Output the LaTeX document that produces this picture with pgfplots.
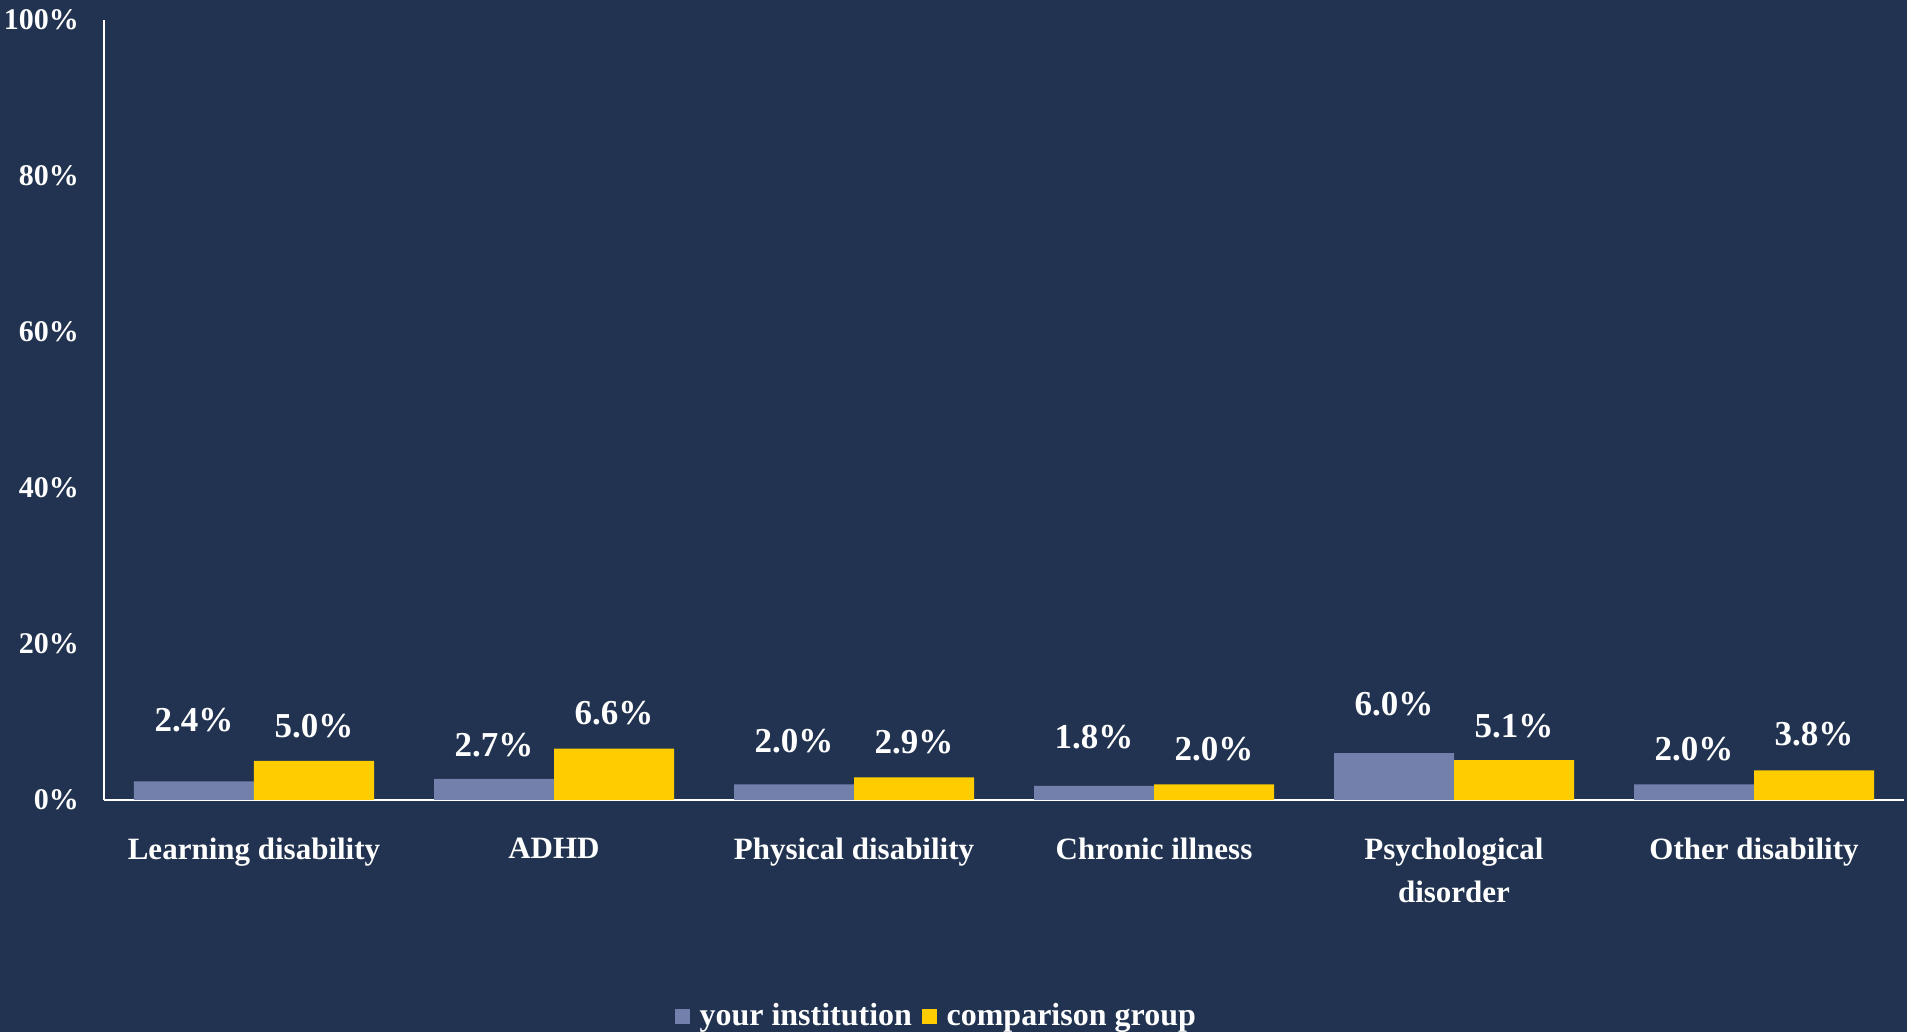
\documentclass[border=0pt]{standalone}
\usepackage{pgfplots}
\pgfplotsset{compat=1.18}
\usepackage{fontspec}
\setmainfont{Liberation Serif}
\definecolor{bg}{HTML}{213350}
\definecolor{yourc}{HTML}{7480AC}
\definecolor{compc}{HTML}{FFCC00}
\begin{document}
\begin{tikzpicture}
\fill[bg] (-52pt,-116pt) rectangle (901.5pt,400pt);
\useasboundingbox (-52pt,-116pt) rectangle (901.5pt,400pt);
\begin{axis}[
  at={(0,0)}, anchor=south west,
  scale only axis, width=900pt, height=390pt,
  xmin=-0.5, xmax=5.5, ymin=0, ymax=100,
  ybar=0pt, bar width=60pt,
  axis x line*=bottom, axis y line*=left,
  axis line style={white, line width=1pt, -},
  major tick length=0pt,
  xtick={0,1,2,3,4,5},
  xticklabels={Learning disability, ADHD, Physical disability, Chronic illness, {Psychological\\disorder}, Other disability},
  xticklabel style={font=\bfseries\fontsize{15.5}{21.5}\selectfont, text=white, align=center, anchor=north, yshift=-15.5pt},
  ytick={0,20,40,60,80,100},
  yticklabel={\pgfmathprintnumber[assume math mode=true]{\tick}\%},
  yticklabel style={font=\bfseries\fontsize{15}{18}\selectfont, text=white, anchor=east, xshift=-9pt},
  legend style={at={(0.463,-0.277)}, anchor=center, draw=none, fill=none, text=white,
    font=\bfseries\fontsize{16}{18}\selectfont, legend columns=2,
    /tikz/every odd column/.append style={column sep=3pt},
    /tikz/every even column/.append style={column sep=3pt}},
  legend image code/.code={\fill[#1] (0pt,-4pt) rectangle (7.3pt,3.3pt);},
  nodes near coords={\pgfmathprintnumber[fixed,fixed zerofill,precision=1,assume math mode=true]{\pgfplotspointmeta}\%},
  nodes near coords style={font=\bfseries\fontsize{17.5}{20}\selectfont, text=white},
  visualization depends on={value \thisrow{off} \as \off},
  every node near coord/.append style={anchor=center, yshift=\off pt},
]
\addplot[fill=yourc, draw=none] table[x=x, y=y] {
x y off
0 2.4 30.5
1 2.7 17
2 2.0 21.5
3 1.8 24.5
4 6.0 24.5
5 2.0 17.5
};
\addplot[fill=compc, draw=none] table[x=x, y=y] {
x y off
0 5.0 17.5
1 6.6 17.5
2 2.9 17.5
3 2.0 17.5
4 5.1 17
5 3.8 18
};
\legend{your institution, comparison group}
\end{axis}
\end{tikzpicture}
\end{document}
